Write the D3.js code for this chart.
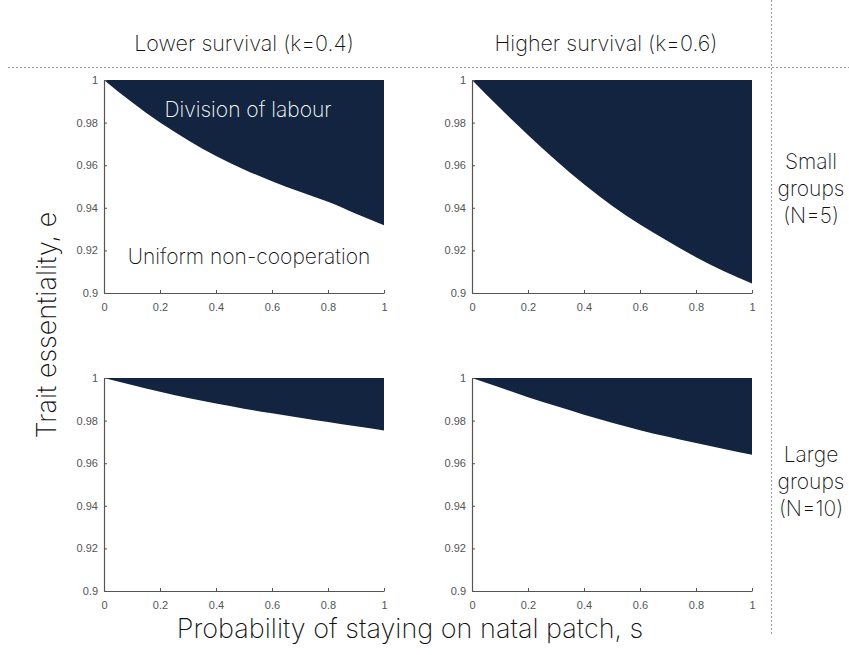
<!DOCTYPE html>
<html>
<head>
<meta charset="utf-8">
<script src="https://cdn.jsdelivr.net/npm/d3@7"></script>
<style>
  body { margin: 0; background: #fff; }
  svg text { font-family: Inter, Roboto, "Liberation Sans", sans-serif; }
</style>
</head>
<body>
<div id="vis"></div>
<script>
// boundary between division of labour (above) and uniform non-cooperation (below)
const sValues = [0, 0.1, 0.2, 0.3, 0.4, 0.5, 0.6, 0.7, 0.8, 0.9, 1];
const smallLowK = [1, 0.9895, 0.980, 0.9717, 0.9643, 0.958, 0.9525, 0.9475, 0.9428, 0.9372, 0.9318];
const smallHighK = [1, 0.9868, 0.9742, 0.9622, 0.951, 0.941, 0.9322, 0.9243, 0.9168, 0.9102, 0.9045];
const largeLowK = [1, 0.9967, 0.9935, 0.9906, 0.988, 0.9856, 0.9834, 0.9813, 0.9793, 0.9773, 0.9754];
const largeHighK = [1, 0.9955, 0.991, 0.9868, 0.9828, 0.979, 0.9755, 0.9724, 0.9695, 0.9667, 0.964];

const xTicks = [0, 0.2, 0.4, 0.6, 0.8, 1];
const yTicks = [0.9, 0.92, 0.94, 0.96, 0.98, 1];

const columnTitles = ['Lower survival (k=0.4)', 'Higher survival (k=0.6)'];
const rowLabels = [['Small', 'groups', '(N=5)'], ['Large', 'groups', '(N=10)']];

const width = 849;
const height = 655;
const fill = '#12243f';

const colX = [104, 472];
const rowY = [80, 378];
const panelW = 280;
const panelH = 213;

const panels = [
  {col: 0, row: 0, values: smallLowK},
  {col: 1, row: 0, values: smallHighK},
  {col: 0, row: 1, values: largeLowK},
  {col: 1, row: 1, values: largeHighK}
];

const svg = d3.select('#vis').append('svg')
  .attr('width', width)
  .attr('height', height);

// dashed separators
svg.append('line')
  .attr('x1', 8).attr('x2', width)
  .attr('y1', 67.5).attr('y2', 67.5)
  .attr('stroke', '#999').attr('stroke-dasharray', '2,2');
svg.append('line')
  .attr('x1', 771.5).attr('x2', 771.5)
  .attr('y1', 0).attr('y2', 634)
  .attr('stroke', '#999').attr('stroke-dasharray', '2,2');

function drawPanel(p) {
  const x = d3.scaleLinear().domain([0, 1]).range([0, panelW]);
  const y = d3.scaleLinear().domain([0.9, 1]).range([panelH, 0]);

  const g = svg.append('g')
    .attr('transform', `translate(${colX[p.col]},${rowY[p.row]})`);

  const area = d3.area()
    .x((d, i) => x(sValues[i]))
    .y0(y(1))
    .y1(d => y(d))
    .curve(d3.curveMonotoneX);

  g.append('path')
    .datum(p.values)
    .attr('d', area)
    .attr('fill', fill);

  const xAxis = d3.axisBottom(x)
    .tickValues(xTicks)
    .tickSize(-3)
    .tickSizeOuter(0)
    .tickPadding(10)
    .tickFormat(d => String(d));

  const yAxis = d3.axisLeft(y)
    .tickValues(yTicks)
    .tickSize(-3)
    .tickSizeOuter(0)
    .tickPadding(6)
    .tickFormat(d => String(d));

  [g.append('g').attr('transform', `translate(0,${panelH})`).call(xAxis),
   g.append('g').call(yAxis)].forEach(a => {
    a.select('.domain').attr('stroke', '#555').attr('stroke-width', 1.2);
    a.selectAll('.tick line').attr('stroke', '#555');
    a.selectAll('.tick text')
      .attr('fill', '#555')
      .style('font-family', '"Liberation Sans", Arial, sans-serif')
      .style('font-size', '11px');
  });

  return g;
}

const groups = panels.map(drawPanel);

// region labels inside the first panel
groups[0].append('text')
  .attr('x', 144).attr('y', 37)
  .attr('text-anchor', 'middle')
  .attr('fill', '#fff')
  .style('font-size', '21px').style('font-weight', 200)
  .text('Division of labour');

groups[0].append('text')
  .attr('x', 145).attr('y', 184)
  .attr('text-anchor', 'middle')
  .attr('fill', '#111')
  .style('font-size', '21px').style('font-weight', 200)
  .text('Uniform non-cooperation');

// column titles
columnTitles.forEach((t, i) => {
  svg.append('text')
    .attr('x', colX[i] + panelW / 2 - (i === 0 ? 0 : 6))
    .attr('y', 51)
    .attr('text-anchor', 'middle')
    .attr('fill', '#111')
    .style('font-size', '21.5px').style('font-weight', 200)
    .text(t);
});

// row labels
rowLabels.forEach((lines, r) => {
  const baseY = r === 0 ? 169 : 462;
  lines.forEach((t, j) => {
    svg.append('text')
      .attr('x', 811)
      .attr('y', baseY + j * 27)
      .attr('text-anchor', 'middle')
      .attr('fill', '#111')
      .style('font-size', '21px').style('font-weight', 200)
      .text(t);
  });
});

// axis titles
svg.append('text')
  .attr('transform', 'translate(56,325) rotate(-90)')
  .attr('text-anchor', 'middle')
  .attr('fill', '#111')
  .style('font-size', '27px').style('font-weight', 200)
  .text('Trait essentiality, e');

svg.append('text')
  .attr('x', 410).attr('y', 638)
  .attr('text-anchor', 'middle')
  .attr('fill', '#111')
  .style('font-size', '27px').style('font-weight', 200)
  .text('Probability of staying on natal patch, s');
</script>
</body>
</html>
